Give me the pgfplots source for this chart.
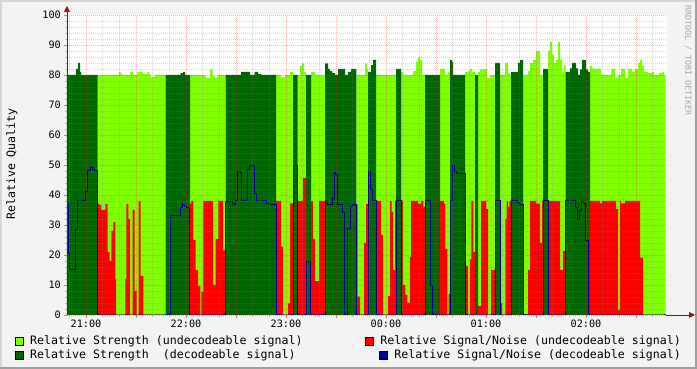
\documentclass[border=0pt]{standalone}
\usepackage{fontspec}
\setmainfont{DejaVu Sans Mono}
\usepackage{pgfplots}
\pgfplotsset{compat=1.18}
\usepackage{pgfplotstable}

\definecolor{lgreen}{HTML}{80FF00}
\definecolor{dgreen}{HTML}{006600}
\definecolor{rred}{HTML}{FF0000}
\definecolor{nblue}{HTML}{000099}
\definecolor{bgc}{HTML}{F3F3F3}
\definecolor{edgelight}{HTML}{D6D6D6}
\definecolor{edgedark}{HTML}{A0A0A0}
\definecolor{mingrid}{HTML}{808080}
\definecolor{majgrid}{HTML}{C03030}
\definecolor{axiscol}{HTML}{30304A}
\definecolor{arrowcol}{HTML}{A01010}
\definecolor{wmark}{HTML}{A8A8A8}

% x: time in hours (21 = 21:00, 24 = 00:00, 25 = 01:00 ...)
% su: strength undecodeable, sd: strength decodeable
% nu: S/N undecodeable, nd: S/N decodeable
\pgfplotstableread{
x su sd nu nd
20.81 0 80 0 37
20.823 0 80 0 20.5
20.84 0 80 0 15
20.893 0 80 0 28.6
20.9 0 82 0 28.6
20.913 0 82 0 38
20.92 0 84 0 38
20.94 0 81 0 38
20.95 0 80 0 38
20.993 0 80 0 41
21.013 0 80 0 48
21.04 0 80 0 49
21.063 0 80 0 48.5
21.087 0 80 0 48
21.115 80 0 37 0
21.137 80 0 36.7 0
21.153 80 0 35 0
21.193 80 0 37 0
21.217 80 0 21 0
21.237 80 0 18 0
21.253 80 0 28 0
21.273 80 0 31 0
21.293 80 0 12 0
21.3 80 0 0 0
21.33 81 0 0 0
21.347 80.4 0 0 0
21.363 80 0 0 0
21.393 80 0 12 0
21.403 80 0 37 0
21.423 80 0 32 0
21.44 81 0 0 0
21.467 81 0 35 0
21.47 80 0 35 0
21.487 80 0 8 0
21.507 80 0 0 0
21.513 81 0 0 0
21.525 81 0 38 0
21.547 81 0 13 0
21.57 80.4 0 13 0
21.573 80.4 0 0 0
21.613 81 0 0 0
21.637 80 0 0 0
21.647 79.4 0 0 0
21.687 80 0 0 0
21.797 0 80 0 0
21.84 0 80 0 33
21.943 0 80 0 35.8
21.947 0 80.6 0 35.8
21.963 0 80.6 0 36.9
21.97 0 81 0 36.9
21.987 0 81 0 36.1
21.99 0 80 0 36.1
22.003 0 80 0 35.8
22.033 0 80 0 0
22.04 80 0 37.1 0
22.053 80 0 38 0
22.073 80 0 25 0
22.097 80 0 15 0
22.12 80 0 9.7 0
22.143 80 0 0 0
22.153 80 0 7.8 0
22.173 80 0 38 0
22.197 79.1 0 38 0
22.24 81.9 0 38 0
22.267 79.7 0 38 0
22.27 79.7 0 10 0
22.287 79.1 0 10 0
22.297 79.1 0 25.3 0
22.313 80 0 25.3 0
22.323 80 0 38 0
22.37 80 0 21.5 0
22.395 0 80 0 37.8
22.463 0 80 0 37.2
22.475 0 80 0 36.9
22.493 0 80 0 38.3
22.513 0 80 0 47.9
22.54 0 80 0 47.4
22.55 0 81 0 38
22.613 0 81 0 48.6
22.633 0 81 0 49.9
22.64 0 80 0 49.9
22.683 0 80 0 40.6
22.687 0 81 0 40.6
22.7 0 81 0 38
22.72 0 80.3 0 38
22.75 0 80 0 38
22.807 0 80 0 37.2
22.833 0 80 0 36.9
22.9 80 0 38 0
22.95 79.2 0 22.8 0
22.97 79.2 0 0 0
22.99 80 0 0 0
23.02 80 0 3.9 0
23.04 81 0 37.2 0
23.07 0 80 0 49.9
23.117 80 0 38 0
23.14 83 0 38 0
23.16 83.9 0 38 0
23.17 83.9 0 45.6 0
23.18 81 0 45.6 0
23.2 0 80 0 17.9
23.243 0 80 0 0
23.25 81 0 38 0
23.27 81 0 25.3 0
23.29 80 0 11.3 0
23.33 80 0 38 0
23.39 0 83.9 0 38
23.413 0 83.9 0 36.9
23.42 0 82 0 36.9
23.44 0 81.3 0 36.9
23.46 0 80.7 0 38.9
23.48 0 80.7 0 47.5
23.49 0 80 0 47.5
23.493 0 80 0 46.8
23.513 0 80 0 36.9
23.52 0 82 0 36.9
23.56 0 82 0 34
23.58 0 82 0 0
23.59 0 80 0 0
23.613 0 80 0 28.9
23.62 0 81 0 28.9
23.64 0 81 0 36.1
23.65 0 82 0 36.1
23.66 0 82 0 36.9
23.703 80 0 36.9 0
23.717 80 0 6.1 0
23.74 80 0 0 0
23.78 80 0 24 0
23.79 83.9 0 24 0
23.8 83.9 0 37 0
23.81 82 0 37 0
23.82 0 81 0 47.9
23.84 0 81 0 41.7
23.85 0 83.3 0 41.7
23.86 0 83.3 0 38
23.87 0 85 0 38
23.9 80 0 38 0
23.95 80 0 26.7 0
23.97 80 0 0 0
24.02 80 0 6.3 0
24.04 80 0 38 0
24.057 80 0 34.4 0
24.07 80 0 15 0
24.09 80 0 38 0
24.1 0 82 0 38
24.15 81 0 38 0
24.17 80 0 10 0
24.193 80 0 6.7 0
24.213 80 0 4.1 0
24.24 80 0 19.3 0
24.25 80 0 38 0
24.27 81.3 0 38 0
24.3 84.3 0 38 0
24.32 85.9 0 37.1 0
24.34 85 0 37.1 0
24.353 85 0 38 0
24.36 80 0 38 0
24.373 80 0 36.1 0
24.39 0 80 0 38
24.44 0 80 0 9.7
24.463 0 80 0 0
24.54 82 0 38 0
24.58 82 0 37 0
24.59 80 0 37 0
24.593 80 0 22 0
24.613 80 0 0 0
24.62 81 0 0 0
24.627 81 0 7 0
24.64 0 85 0 38.3
24.66 0 84.3 0 49.9
24.67 0 80 0 49.9
24.68 0 80 0 47.9
24.7 0 80 0 47
24.79 81 0 16.4 0
24.82 81.3 0 0 0
24.84 82 0 18.5 0
24.853 82 0 38 0
24.86 81 0 38 0
24.873 81 0 21 0
24.89 0 80 0 0
24.92 81 0 3 0
24.94 81.9 0 3 0
24.95 81.9 0 38 0
25.0 81.9 0 35.3 0
25.01 79 0 35.3 0
25.02 79 0 0 0
25.04 80 0 0 0
25.05 80 0 15 0
25.09 0 84 0 38
25.14 80 0 4 0
25.16 80 0 0 0
25.19 84 0 0 0
25.193 84 0 32 0
25.207 84 0 38 0
25.22 80.7 0 36 0
25.233 80.7 0 38 0
25.24 80 0 38 0
25.25 0 81 0 38
25.31 0 81 0 37.4
25.32 0 84 0 37.4
25.33 0 84 0 36.9
25.34 0 85 0 36.9
25.37 80 0 0 0
25.42 81.3 0 15 0
25.44 84 0 38 0
25.47 85 0 38 0
25.5 88 0 37.1 0
25.54 80 0 24 0
25.56 80 0 38 0
25.57 0 82 0 38
25.62 88 0 38 0
25.64 91 0 38 0
25.66 86.8 0 38 0
25.68 84 0 38 0
25.7 85 0 38 0
25.72 91 0 38 0
25.74 85 0 15 0
25.76 81 0 15 0
25.77 81 0 21.3 0
25.78 83.3 0 21.3 0
25.797 0 81 0 38
25.84 0 82.2 0 38
25.86 0 84 0 38
25.89 0 84 0 35.7
25.9 0 82.2 0 35.7
25.91 0 82.2 0 31.7
25.92 0 80 0 31.7
25.93 0 80 0 34.7
25.94 0 81.9 0 34.7
25.95 0 81.9 0 37.7
25.96 0 85 0 37.7
25.97 0 85 0 37.1
25.99 0 85 0 24.7
26.0 0 81.9 0 24.7
26.02 0 81 0 0
26.04 83 0 38 0
26.06 82.2 0 38 0
26.08 82 0 38 0
26.14 82 0 37.2 0
26.15 80 0 37.2 0
26.16 80 0 38 0
26.25 82 0 38 0
26.29 79 0 38 0
26.3 79 0 35.3 0
26.32 80 0 1.7 0
26.34 80 0 38 0
26.35 82 0 37.2 0
26.39 79 0 38 0
26.42 82 0 38 0
26.46 81 0 38 0
26.49 82 0 38 0
26.52 84 0 38 0
26.54 85 0 19.1 0
26.56 83 0 19.1 0
26.57 83 0 0 0
26.58 81 0 0 0
26.62 80.6 0 0 0
26.66 81 0 0 0
26.68 80 0 0 0
26.73 80.6 0 0 0
26.76 81 0 0 0
26.78 80 0 0 0
26.797 80 0 0 0
}\rrd

\begin{document}
\begin{tikzpicture}[x=1pt,y=1pt]
\fill[bgc] (0,0) rectangle (697,369);
\fill[edgelight] (0,367) rectangle (697,369);
\fill[edgelight] (0,0) rectangle (2,369);
\fill[edgedark] (0,0) rectangle (697,2);
\fill[edgedark] (695,0) rectangle (697,369);

\begin{axis}[
  at={(67pt,54pt)}, anchor=south west,
  scale only axis, width=600pt, height=300pt,
  xmin=20.81, xmax=26.81, ymin=0, ymax=100,
  axis background/.style={fill=white},
  axis line style={draw=none},
  axis on top, clip=false,
  xtick={21,21.5,22,22.5,23,23.5,24,24.5,25,25.5,26,26.5},
  xticklabels={21:00,,22:00,,23:00,,00:00,,01:00,,02:00,},
  minor xtick={20.8333,21.1667,21.3333,21.6667,21.8333,22.1667,22.3333,22.6667,22.8333,23.1667,23.3333,23.6667,23.8333,24.1667,24.3333,24.6667,24.8333,25.1667,25.3333,25.6667,25.8333,26.1667,26.3333,26.6667},
  ytick={0,10,...,100},
  minor y tick num=4,
  grid=both,
  major grid style={majgrid, opacity=0.35, dash pattern=on 1pt off 1pt, line width=0.5pt},
  minor grid style={mingrid, opacity=0.3, dash pattern=on 1pt off 1pt, line width=0.5pt},
  tick align=outside, xtick pos=bottom, ytick pos=left,
  major tick length=3pt, minor tick length=2pt,
  every major tick/.append style={majgrid, opacity=0.6, line width=0.6pt},
  every minor tick/.append style={mingrid, opacity=0.5, line width=0.6pt},
  tick label style={font=\fontsize{10.2}{12}\selectfont, text=black},
  /pgf/number format/assume math mode=true,
  yticklabel style={inner sep=0pt, xshift=-3pt},
  xticklabel style={inner sep=0pt, yshift=-2pt},
]
\addplot[const plot, fill=lgreen, draw=none] table[x=x, y=su] {\rrd} \closedcycle;
\addplot[const plot, fill=dgreen, draw=none] table[x=x, y=sd] {\rrd} \closedcycle;
\addplot[const plot, fill=rred, draw=none] table[x=x, y=nu] {\rrd} \closedcycle;
\addplot[const plot, nblue, line width=1pt] table[x=x, y=nd] {\rrd};
\end{axis}

% axes with arrows
\draw[axiscol, line width=0.8pt] (666,54) -- (690,54);
\draw[axiscol, line width=0.8pt] (67,54) -- (67,358);
\fill[arrowcol] (689,51) -- (695,54) -- (689,57) -- cycle;
\fill[arrowcol] (64,357) -- (67,363) -- (70,357) -- cycle;

% y label
\node[rotate=90, inner sep=0pt, font=\fontsize{11.6}{13}\selectfont] at (12,205) {Relative Quality};
% watermark
\node[rotate=-90, anchor=west, inner sep=0pt, text=wmark, font=\fontsize{8.3}{10}\selectfont] at (688,364) {RRDTOOL / TOBI OETIKER};

% legend
\begin{scope}[font=\fontsize{11.6}{13}\selectfont]
\filldraw[fill=lgreen, draw=black, line width=0.6pt] (15,24) rectangle (23,32);
\node[anchor=west, inner sep=0pt] at (30,28) {Relative Strength (undecodeable signal)};
\filldraw[fill=dgreen, draw=black, line width=0.6pt] (15,10) rectangle (23,18);
\node[anchor=west, inner sep=0pt] at (30,14) {Relative Strength\ \ (decodeable signal)};
\filldraw[fill=rred, draw=black, line width=0.6pt] (365,24) rectangle (373,32);
\node[anchor=east, inner sep=0pt] at (681,28) {Relative Signal/Noise (undecodeable signal)};
\filldraw[fill=nblue, draw=black, line width=0.6pt] (379,10) rectangle (387,18);
\node[anchor=east, inner sep=0pt] at (681,14) {Relative Signal/Noise (decodeable signal)};
\end{scope}
\end{tikzpicture}
\end{document}
